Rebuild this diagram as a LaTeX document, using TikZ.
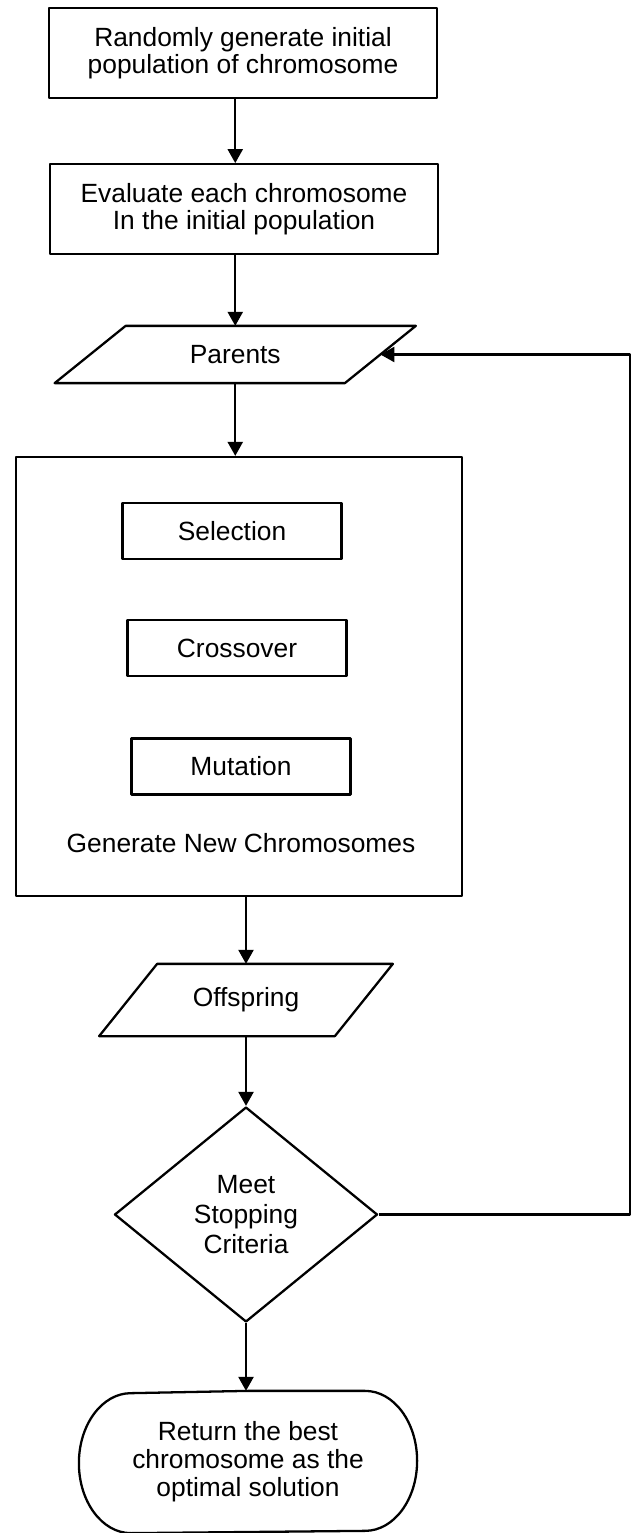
\documentclass[tikz,border=0pt]{standalone}
\usepackage{fontspec}
\setmainfont{Liberation Sans}
\usetikzlibrary{arrows.meta,shapes.geometric}
\begin{document}
\begin{tikzpicture}[x=0.02cm,y=-0.02cm,line width=1.3pt,line join=round,
  every node/.style={font=\fontsize{15}{15.5}\selectfont,align=center,inner sep=0pt},
  arr/.style={-{Triangle[length=0.28cm,width=0.3cm]}},
  procbox/.style={draw,minimum width=7.77cm,minimum height=1.79cm},
  opbox/.style={draw,minimum width=4.38cm,minimum height=1.12cm},
  decbox/.style={draw,diamond,minimum width=5.26cm,minimum height=4.3cm,font=\fontsize{15}{17}\selectfont},
  termbox/.style={minimum width=6.72cm,minimum height=2.8cm,font=\fontsize{15}{16}\selectfont}]
 \useasboundingbox (0,0) rectangle (632,1533);
 \node[procbox] (init) at (243,53) {Randomly generate initial\\population of chromosome};
 \node[procbox] (eval) at (244,209) {Evaluate each chromosome\\In the initial population};
 \node[minimum width=5.76cm,minimum height=1.1cm] (par) at (235.25,354.5) {Parents};
 \draw ([xshift=0.71cm]par.north west) -- ([xshift=0.71cm]par.north east)
   -- ([xshift=-0.71cm]par.south east) -- ([xshift=-0.71cm]par.south west) -- cycle;
 \node[draw,minimum width=8.92cm,minimum height=8.78cm] (gen) at (239,676.5) {};
 \node[opbox] (sel) at (232,531) {Selection};
 \node[opbox] (cro) at (237,648) {Crossover};
 \node[opbox] (mut) at (241,766.5) {Mutation};
 \node (genlbl) at (241,843) {Generate New Chromosomes};
 \node[minimum width=4.67cm,minimum height=1.4cm] (off) at (246,1000) {Offspring};
 \draw ([xshift=0.58cm]off.north west) -- ([xshift=0.58cm]off.north east)
   -- ([xshift=-0.58cm]off.south east) -- ([xshift=-0.58cm]off.south west) -- cycle;
 \node[decbox] (dec) at (246,1214.5) {Meet\\Stopping\\Criteria};
 \node[termbox] (ret) at (248,1462) {Return the best\\chromosome as the\\optimal solution};
 \draw (ret.north) -- ([xshift=-1.04cm]ret.north east)
   arc[start angle=90,end angle=-90,x radius=1.04cm,y radius=1.4cm]
   -- ([xshift=1.04cm]ret.south west)
   arc[start angle=270,end angle=90,x radius=1.04cm,y radius=1.4cm] -- cycle;
 \coordinate (loop) at (630,0);
 \draw[arr] (init.south -| par.center) -- (eval.north -| par.center);
 \draw[arr] (eval.south -| par.center) -- (par.north);
 \draw[arr] (par.south) -- (gen.north -| par.center);
 \draw[arr] (gen.south -| off.center) -- (off.north);
 \draw[arr] (off.south) -- (dec.north);
 \draw[arr] (dec.south) -- (dec.south |- ret.north);
 \draw[arr] (dec.east) -| (loop |- par.east) -- (par.east);
\end{tikzpicture}
\end{document}
